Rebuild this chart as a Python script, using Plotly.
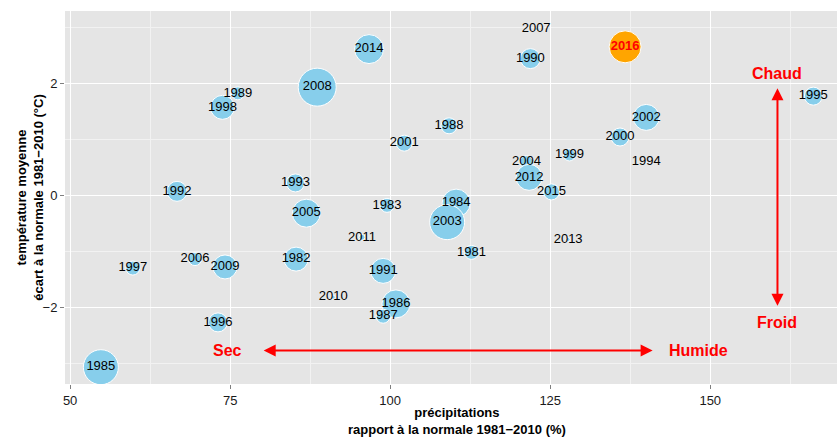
import plotly.graph_objects as go

annees = [1981, 1982, 1983, 1984, 1985, 1986, 1987, 1988, 1989, 1990,
          1991, 1992, 1993, 1994, 1995, 1996, 1997, 1998, 1999, 2000,
          2001, 2002, 2003, 2004, 2005, 2006, 2007, 2008, 2009, 2010,
          2011, 2012, 2013, 2014, 2015, 2016]
precipitations = [112.7, 85.3, 99.5, 110.3, 54.8, 100.9, 98.9, 109.2, 76.2, 121.9,
                  98.9, 66.7, 85.2, 140.0, 166.1, 73.1, 59.8, 73.8, 128.0, 135.9,
                  102.2, 140.0, 108.9, 121.3, 86.9, 69.5, 122.8, 88.6, 74.2, 91.1,
                  95.6, 121.7, 127.8, 96.7, 125.2, 136.7]
temperature = [-1.01, -1.13, -0.17, -0.13, -3.06, -1.93, -2.15, 1.25, 1.83, 2.45,
               -1.34, 0.08, 0.23, 0.60, 1.78, -2.26, -1.29, 1.58, 0.73, 1.05,
               0.94, 1.40, -0.47, 0.60, -0.31, -1.13, 2.98, 1.94, -1.27, -1.81,
               -0.74, 0.33, -0.78, 2.62, 0.07, 2.66]
# third variable (bubble diameter, px)
ensoleillement = [14, 24, 14, 28, 35, 28, 14, 16, 13, 20,
                  25, 20, 18, 1, 18, 19, 14, 24, 12, 18,
                  16, 26, 35, 13, 28, 13, 3, 38, 24, 4,
                  6, 26, 4, 29, 16, 32]

x_ticks = [50, 75, 100, 125, 150]
y_ticks = [-2, 0, 2]

colors = ["#FFA500" if a == 2016 else "#87CEEB" for a in annees]
txt = ["<b>%d</b>" % a if a == 2016 else str(a) for a in annees]
txtcol = ["#FF0000" if a == 2016 else "#000000" for a in annees]

FONT = "Liberation Sans, Arial, sans-serif"

fig = go.Figure()
fig.add_trace(go.Scatter(
    x=precipitations, y=temperature, mode="markers+text",
    text=txt, textposition="middle center",
    textfont=dict(family=FONT, size=13, color=txtcol),
    marker=dict(size=ensoleillement, sizemode="diameter", color=colors,
                line=dict(color="white", width=1), opacity=1),
    hoverinfo="skip", showlegend=False, cliponaxis=True,
))

red = "#FF0000"
afont = dict(family=FONT, size=16, color=red)
anns = [
    dict(x=141, y=-2.76, ax=80, ay=-2.76, xref="x", yref="y", axref="x", ayref="y",
         text="", showarrow=True, arrowhead=2, startarrowhead=2, arrowside="end+start",
         arrowsize=1.2, arrowwidth=2, arrowcolor=red),
    dict(x=160.5, y=1.92, ax=160.5, ay=-1.99, xref="x", yref="y", axref="x", ayref="y",
         text="", showarrow=True, arrowhead=2, startarrowhead=2, arrowside="end+start",
         arrowsize=1.2, arrowwidth=2, arrowcolor=red),
    dict(x=74.6, y=-2.76, xref="x", yref="y", text="<b>Sec</b>", showarrow=False, font=afont),
    dict(x=148.1, y=-2.76, xref="x", yref="y", text="<b>Humide</b>", showarrow=False, font=afont),
    dict(x=160.5, y=2.19, xref="x", yref="y", text="<b>Chaud</b>", showarrow=False, font=afont),
    dict(x=160.5, y=-2.27, xref="x", yref="y", text="<b>Froid</b>", showarrow=False, font=afont),
    dict(x=0.508, y=-0.05, xref="paper", yref="paper", yanchor="top",
         text="<b>précipitations<br>rapport à la normale 1981−2010 (%)</b>",
         showarrow=False, font=dict(family=FONT, size=13, color="#000")),
    dict(x=-0.023, y=0.5, xref="paper", yref="paper", xanchor="right", textangle=-90,
         text="<b>température moyenne<br>écart à la normale 1981−2010 (°C)</b>",
         showarrow=False, font=dict(family=FONT, size=13, color="#000")),
]

axis_common = dict(
    showgrid=True, gridcolor="white", gridwidth=1.2, zeroline=False,
    ticks="outside", ticklen=4, tickcolor="#7F7F7F", tickwidth=1,
    tickfont=dict(family=FONT, size=13, color="#1A1A1A"),
    showline=False,
)
fig.update_layout(
    width=837, height=437,
    margin=dict(l=65, r=0, t=11, b=53),
    paper_bgcolor="white", plot_bgcolor="#E5E5E5",
    xaxis=dict(range=[49.2, 169.8], tickvals=x_ticks,
               minor=dict(tickvals=[62.5, 87.5, 112.5, 137.5, 162.5], ticks="",
                          showgrid=True, gridcolor="#F2F2F2", gridwidth=0.6),
               **axis_common),
    yaxis=dict(range=[-3.36, 3.30], tickvals=y_ticks,
               minor=dict(tickvals=[-3, -1, 1, 3], ticks="",
                          showgrid=True, gridcolor="#F2F2F2", gridwidth=0.6),
               **axis_common),
    annotations=anns,
    font=dict(family=FONT),
)
fig.write_html("out.html", config={"displayModeBar": False})

with open("out.html", "r", encoding="utf-8") as f:
    html = f.read()
html = html.replace("<body>", '<body style="margin:0;padding:0;">', 1)
with open("out.html", "w", encoding="utf-8") as f:
    f.write(html)
